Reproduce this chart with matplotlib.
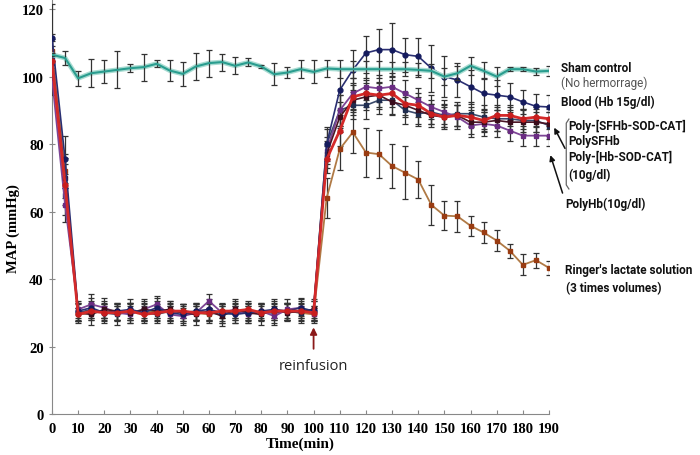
import matplotlib.pyplot as plt

# time points (min)
time = list(range(0, 195, 5))

# mean arterial pressure, mmHg
sham = [106.5, 105.5, 99.5, 101, 101.5, 102, 102.5, 102.8, 103.8, 101.8,
        100.8, 103, 104, 104.3, 103.2, 104.2, 103, 100.7, 101.2, 102.2,
        101.4, 102.4, 102.2, 102.2, 102.2, 102.2, 102.2, 102.2, 102, 101.7,
        100, 101, 103.2, 101.7, 100, 102.2, 102.2, 101.5, 101.7]
sham_err = [0.5, 2.1, 2.3, 4.2, 3.5, 5.5, 1.2, 4, 1, 3,
            3.5, 4, 4, 2.5, 2.5, 1.2, 0.5, 3.2, 1.7, 2.7,
            3.4, 2.5, 2.7, 2.5, 2.5, 2.5, 2, 2, 2, 2,
            2.5, 2, 2.7, 2.5, 2.7, 0.5, 0.6, 1, 1.5]

blood = [111.5, 75.5,
         30.5, 31.5, 30, 30.5, 31, 30, 31.5, 30, 29.5, 30.5, 31, 30, 29.5, 30, 30.5, 31, 30.5, 31.5, 30.5,
         80, 96, 102, 107, 108, 108, 106.5, 106, 102.5, 100, 99, 97, 95, 94.5, 94, 92.5, 91.2, 91]
blood_err = [10, 7,
             2.5, 3, 2.5, 2.5, 3, 2.5, 3, 2.5, 2.5, 2.5, 3, 2.5, 2.5, 3, 2.5, 3, 2.5, 3, 3,
             5, 6, 6, 5, 6, 8, 5, 5.5, 7, 6, 5, 5, 4.5, 4.5, 4, 3.5, 3.5, 3.5]

sfhb_sod_cat = [104.5, 68,
                29.5, 30.5, 30, 30, 30.5, 29.5, 30, 30.5, 30.5, 30, 30, 30.5, 30.5, 31, 30, 30.5, 30.5, 30.5, 30,
                75.5, 84, 94, 95, 94.5, 95, 92, 91.5, 89, 88, 88.5, 88, 87, 88.5, 88.5, 87.5, 88, 87.5]
sfhb_sod_cat_err = [6, 6,
                    2, 2.5, 2, 2, 2.5, 2, 2, 2.5, 2, 2, 2.5, 2, 2, 2.5, 2, 2, 2.5, 2, 2,
                    4, 4.5, 4, 4, 3.5, 4, 3.5, 3.5, 3, 3, 3, 3, 3, 3, 3, 3, 3, 3]

polysfhb = [104, 70,
            30, 29.5, 31, 30.5, 30, 31, 30.5, 31, 30, 29.5, 30.5, 29, 31, 30, 29.5, 31, 30, 30.5, 31,
            77, 88, 93, 94, 94.5, 92.5, 91.5, 90, 88.5, 88, 88.5, 86.5, 86.5, 87, 86.5, 86.5, 86.5, 86]
polysfhb_err = [5, 6,
                2.5, 3, 2.5, 2.5, 3, 2.5, 3, 2.5, 2.5, 3, 2.5, 3, 2.5, 2.5, 3, 2.5, 2.5, 3, 2.5,
                4, 4.5, 4.5, 4, 4, 4, 3.5, 4, 3.5, 3.5, 3, 3.5, 3, 3, 3, 3.5, 3, 3.5]

hb_sod_cat = [99.5, 62,
              31, 32.5, 31.5, 30, 29.5, 31, 32.5, 29.5, 29, 30, 33.5, 30, 31, 29.5, 30.5, 29, 31, 31.5, 29.5,
              78, 90, 95, 97, 96.5, 97, 95, 93, 91, 89.5, 88, 85.5, 86, 85.5, 84, 82.5, 82.5, 82.5]
hb_sod_cat_err = [5, 5,
                  2.5, 3, 3, 2.5, 2.5, 3, 2.5, 2.5, 2.5, 2.5, 2, 3, 3, 2.5, 2.5, 2.5, 3, 2.5, 2.5,
                  4, 4.5, 4.5, 4, 4, 4, 4, 3.5, 3.5, 3.5, 3.5, 3.5, 3.5, 3.5, 3, 3, 3, 3]

polyhb = [106, 65,
          30, 31, 30, 29.5, 30.5, 30, 29.5, 30.5, 30, 30.5, 30, 29.5, 30, 30.5, 30, 30, 30.5, 30, 31,
          80, 90, 91.5, 91.5, 93, 93, 90, 89, 89.5, 88.5, 89, 89, 88, 87.5, 87.5, 87, 87, 85.5]
polyhb_err = [5, 6,
              3, 2.5, 3, 3, 2.5, 3, 2.5, 3, 2.5, 2.5, 3, 2.5, 3, 2.5, 2.5, 3, 2.5, 3, 3,
              4.5, 4.5, 4, 4, 4, 4, 4, 3.5, 3.5, 3.5, 3.5, 3.5, 3.5, 3.5, 3.5, 3.5, 3.5, 4]

ringer = [107.5, 72,
          29.5, 30, 30.5, 30, 30.5, 30, 30.5, 30, 30.5, 30, 29.5, 30.5, 30, 30, 30.5, 30, 30.5, 30, 29.5,
          64, 78.5, 83.5, 77.5, 77, 73.5, 71.5, 69.5, 62, 58.8, 58.6, 55.8, 53.8, 51.4, 48.4, 44.2, 45.6, 43.3]
ringer_err = [5, 5,
              2, 2, 2, 2, 2, 2, 2, 2, 2, 2, 2, 2, 2, 2, 2, 2, 2, 2, 2,
              6, 6.2, 6, 7.4, 7.2, 6.4, 7.8, 5.5, 6, 4.2, 4.6, 2.9, 3, 3.2, 2.1, 3.1, 2.2, 2.1]

x_ticks = list(range(0, 200, 10))
y_ticks = list(range(0, 140, 20))

fig = plt.figure(figsize=(7, 4.56), dpi=100)
ax = fig.add_axes([52 / 700, 41 / 456, 497 / 700, 415 / 456])

eb = dict(ecolor='#333333', elinewidth=0.9, capsize=2.5, capthick=0.9)

groups = [
    (ringer, ringer_err, '#b07a45', 's', '#9a3c12', 1.3),
    (polyhb, polyhb_err, '#3b4a6b', 's', '#1f2d4f', 1.2),
    (hb_sod_cat, hb_sod_cat_err, '#7d4595', 's', '#6a2c82', 1.3),
    (polysfhb, polysfhb_err, '#4a1525', 's', '#3a0d1c', 1.2),
    (blood, blood_err, '#2a2f72', 'o', '#151b5e', 1.2),
    (sfhb_sod_cat, sfhb_sod_cat_err, '#d42a2a', 'o', '#c81e1e', 2.0),
]
for vals, errs, col, mk, mcol, lw in groups:
    ax.errorbar(time, vals, yerr=errs, color=col, lw=lw, marker=mk, ms=3.5,
                mfc=mcol, mec=mcol, zorder=3, **eb)

# sham control with a soft glow
ax.plot(time, sham, color='#a8dcd2', lw=3.5, zorder=4)
ax.errorbar(time, sham, yerr=sham_err, color='#2a9d8f', lw=1.5, zorder=5, **eb)

ax.set_xlim(0, 190)
ax.set_ylim(0, 123)
ax.set_xticks(x_ticks)
ax.set_yticks(y_ticks)
for s in ['top', 'right']:
    ax.spines[s].set_visible(False)
for s in ['left', 'bottom']:
    ax.spines[s].set_color('#888888')
ax.tick_params(axis='x', direction='in', length=3, color='#888888', pad=6)
ax.tick_params(axis='y', direction='inout', length=5, color='#888888')
for lab in ax.get_xticklabels() + ax.get_yticklabels():
    lab.set_fontfamily('Liberation Serif')
    lab.set_fontweight('bold')
    lab.set_fontsize(10.5)

ax.set_xlabel('Time(min)', fontfamily='Liberation Serif', fontweight='bold', fontsize=11)
ax.xaxis.set_label_coords(0.5, -0.055)
ax.set_ylabel('MAP (mmHg)', fontfamily='Liberation Serif', fontweight='bold', fontsize=10.5)
ax.yaxis.set_label_coords(-0.065, 0.45)

# reinfusion marker
ax.annotate('', xy=(100, 26.5), xytext=(100, 18.5),
            arrowprops=dict(arrowstyle='-|>', color='#8b1a1a', lw=1.3, mutation_scale=10))
ax.text(100, 14.5, 'reinfusion', ha='center', va='center', fontsize=10.5,
        fontfamily='Open Sans', color='#222222')

# right-hand labels
fam = ['Roboto', 'Liberation Sans']
lbl = dict(fontfamily=fam, fontsize=8.5, fontweight='bold', va='center', ha='left',
           clip_on=False, color='#111111')
ax.text(194.5, 102.6, 'Sham control', **lbl)
ax.text(194.5, 98.3, '(No hermorrage)', fontfamily=fam, fontsize=8.5, va='center',
        ha='left', color='#555555')
ax.text(194.5, 92.8, 'Blood (Hb 15g/dl)', **lbl)
ax.text(197.4, 85.6, 'Poly-[SFHb-SOD-CAT]', **lbl)
ax.text(197.4, 81.1, 'PolySFHb', **lbl)
ax.text(197.4, 76.2, 'Poly-[Hb-SOD-CAT]', **lbl)
ax.text(197.4, 71.1, '(10g/dl)', **lbl)
ax.text(196.2, 62.5, 'PolyHb(10g/dl)', **lbl)
ax.text(196.2, 42.8, "Ringer's lactate solution", **lbl)
ax.text(196.6, 37.5, '(3 times volumes)', **lbl)

# bracket
ax.plot([197.6, 196.6, 196.6, 197.6], [87.4, 86.2, 67.9, 66.7], color='#666666',
        lw=0.9, clip_on=False)
ax.annotate('', xy=(191.5, 85.6), xytext=(196.6, 78),
            arrowprops=dict(arrowstyle='-|>', color='#111111', lw=1.1, mutation_scale=8),
            annotation_clip=False)
ax.annotate('', xy=(190.2, 77.5), xytext=(195.5, 64.7),
            arrowprops=dict(arrowstyle='-|>', color='#111111', lw=1.1, mutation_scale=8),
            annotation_clip=False)

fig.savefig('out.png', dpi=100)
